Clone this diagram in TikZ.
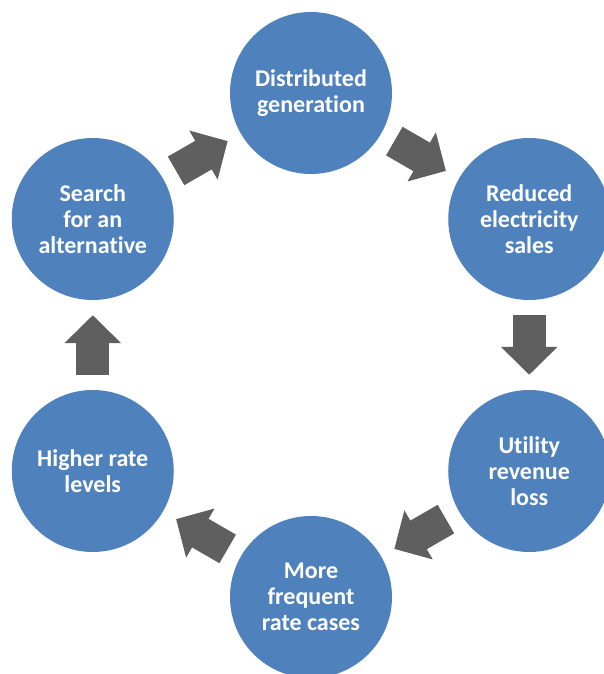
\documentclass[tikz,border=0pt]{standalone}
\usepackage{fontspec}
\setmainfont{Carlito}[Ligatures=NoCommon]
\usetikzlibrary{arrows.meta}
\definecolor{stageblue}{HTML}{4F81BD}
\definecolor{arrowgray}{HTML}{5F5F5F}
\tikzset{node distance=252pt, auto}
\tikzset{
  stage/.style={circle, fill=stageblue, minimum size=162pt, inner sep=0pt,
    text=white, align=center, font=\fontsize{24}{26}\selectfont\bfseries},
  flow/.style={draw=arrowgray, line width=33pt, shorten <=15pt, shorten >=15pt,
    -{Triangle[width=55pt, length=28pt]}}
}

\begin{document}
\begin{tikzpicture}
  \useasboundingbox (-311pt,-329pt) rectangle (292pt,345pt);

  \node[stage] (dg)  at (90:252pt)  {Distributed\\generation};
  \node[stage] (res) at (30:252pt)  {Reduced\\electricity\\sales};
  \node[stage] (url) at (-30:252pt) {Utility\\revenue\\loss};
  \node[stage] (mfc) at (-90:252pt) {More\\frequent\\rate cases};
  \node[stage] (hrl) at (210:252pt) {Higher rate\\levels};
  \node[stage] (sa)  at (150:252pt) {Search\\for an\\alternative};

  \draw[flow] (dg) -- (res);
  \draw[flow] (res) -- (url);
  \draw[flow] (url) -- (mfc);
  \draw[flow] (mfc) -- (hrl);
  \draw[flow] (hrl) -- (sa);
  \draw[flow] (sa) -- (dg);
\end{tikzpicture}
\end{document}
